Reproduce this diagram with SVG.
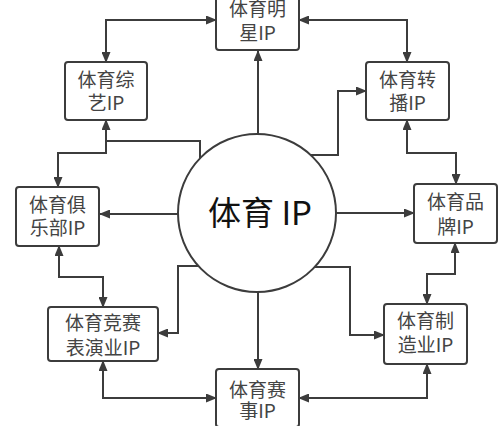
<svg xmlns="http://www.w3.org/2000/svg" width="499" height="426" viewBox="0 0 499 426">
<defs>
<style>
.box{fill:#fff;stroke:#3c3c3c;stroke-width:2}
.lbl{font-family:"Noto Sans CJK SC","Noto Sans",sans-serif;font-size:19px;fill:#444;text-anchor:middle}
.ln{fill:none;stroke:#3c3c3c;stroke-width:2}
.e{marker-end:url(#ah)}
.b{marker-start:url(#ah);marker-end:url(#ah)}
</style>
<marker id="ah" markerUnits="userSpaceOnUse" markerWidth="11" markerHeight="9" refX="10" refY="4.5" orient="auto-start-reverse" viewBox="0 0 11 9">
<path d="M0,0 L11,4.5 L0,9 z" fill="#3c3c3c"/>
</marker>
</defs>
<rect width="499" height="426" fill="#fff"/>
<g id="connectors">
<path class="ln e" d="M258,134 L258,51"/>
<path class="ln b" d="M216,20 L106,20 L106,62"/>
<path class="ln b" d="M299,20 L407,20 L407,62"/>
<path class="ln e" d="M311,155 L338,155 L338,91 L366,91"/>
<path class="ln b" d="M407,120 L407,153 L456,153 L456,184"/>
<path class="ln e" d="M336,213 L414,213"/>
<path class="ln b" d="M455,243 L455,274 L427,274 L427,304"/>
<path class="ln e" d="M315,267 L350,267 L350,335 L384,335"/>
<path class="ln b" d="M427,364 L427,398 L299,398"/>
<path class="ln e" d="M258,292 L258,369"/>
<path class="ln b" d="M103,361 L103,398 L216,398"/>
<path class="ln e" d="M199,266 L178,266 L178,333 L158,333"/>
<path class="ln b" d="M59,246 L59,277 L103,277 L103,307"/>
<path class="ln e" d="M178,214 L100,214"/>
<path class="ln b" d="M106,120 L106,153 L58,153 L58,187"/>
<path class="ln" d="M200,158 L200,141 L106,141"/>
</g>
<g id="center">
<circle cx="257" cy="213" r="79" fill="#fff" stroke="#3c3c3c" stroke-width="2"/>
<text x="260" y="225" font-family="'Noto Sans CJK SC','Noto Sans',sans-serif" font-size="33" fill="#111" text-anchor="middle">体育 IP</text>
</g>
<g id="star">
<rect class="box" x="216" y="-7" width="83" height="57" rx="3"/>
<text class="lbl" x="257.5" y="16"><tspan x="257.5">体育明</tspan><tspan x="257.5" dy="24">星IP</tspan></text>
</g>
<g id="variety">
<rect class="box" x="65" y="62" width="82" height="58" rx="3"/>
<text class="lbl" x="106" y="87"><tspan x="106">体育综</tspan><tspan x="106" dy="23">艺IP</tspan></text>
</g>
<g id="broadcast">
<rect class="box" x="366" y="62" width="83" height="58" rx="3"/>
<text class="lbl" x="407.5" y="87"><tspan x="407.5">体育转</tspan><tspan x="407.5" dy="23">播IP</tspan></text>
</g>
<g id="club">
<rect class="box" x="16" y="187" width="83" height="59" rx="3"/>
<text class="lbl" x="57.5" y="212"><tspan x="57.5">体育俱</tspan><tspan x="57.5" dy="23">乐部IP</tspan></text>
</g>
<g id="brand">
<rect class="box" x="414" y="184" width="83" height="59" rx="3"/>
<text class="lbl" x="455.5" y="209"><tspan x="455.5">体育品</tspan><tspan x="455.5" dy="25">牌IP</tspan></text>
</g>
<g id="performance">
<rect class="box" x="48" y="307" width="110" height="54" rx="3"/>
<text class="lbl" x="103" y="330"><tspan x="103">体育竞赛</tspan><tspan x="103" dy="25">表演业IP</tspan></text>
</g>
<g id="manufacturing">
<rect class="box" x="384" y="304" width="83" height="60" rx="3"/>
<text class="lbl" x="425.5" y="328"><tspan x="425.5">体育制</tspan><tspan x="425.5" dy="24">造业IP</tspan></text>
</g>
<g id="event">
<rect class="box" x="216" y="369" width="83" height="58" rx="3"/>
<text class="lbl" x="257.5" y="397"><tspan x="257.5">体育赛</tspan><tspan x="257.5" dy="21">事IP</tspan></text>
</g>
</svg>
